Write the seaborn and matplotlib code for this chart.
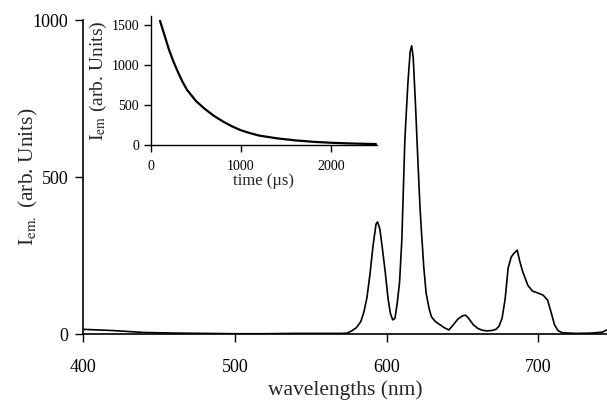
import numpy as np
import pandas as pd
import matplotlib
matplotlib.use("Agg")
import matplotlib.pyplot as plt
import seaborn as sns

# Emission spectrum
wavelength = [400, 410, 420, 430, 440, 450, 460, 480, 500, 520, 540, 560, 570,
              574, 577, 580, 583, 585, 587, 589, 591, 593, 594, 595.5, 597, 599,
              601, 602.5, 604, 605.5, 607, 608.5, 610, 612, 614, 615.5, 616.5,
              617.5, 619, 620.5, 622, 623, 624.5, 626, 628, 629.5, 632, 635, 638,
              641, 644, 647, 650, 652, 654, 657, 660, 663, 666, 669, 672, 674,
              676, 678, 679, 680, 682, 684, 686, 687.5, 689.5, 693, 696, 700,
              703, 706, 708.5, 710.5, 713, 716, 720, 725, 735, 742, 745]
intensity = [15, 13, 11, 8, 5, 4, 3, 2, 1, 1, 2, 2, 2,
             3, 10, 20, 40, 70, 115, 190, 280, 350, 357, 335, 280, 200,
             110, 65, 45, 50, 100, 165, 300, 620, 800, 900, 918,
             880, 730, 560, 400, 320, 210, 130, 80, 55, 40, 30, 20,
             13, 30, 48, 58, 60, 50, 30, 18, 12, 10, 11, 15, 25,
             50, 110, 160, 210, 245, 258, 267, 235, 200, 155, 137, 130,
             124, 108, 66, 30, 10, 4, 3, 2, 3, 6, 13]

# Luminescence decay (inset)
time_us = [100, 150, 200, 250, 300, 350, 400, 500, 600, 700, 800, 900, 1000,
           1100, 1200, 1400, 1600, 1800, 2000, 2200, 2400, 2500]
decay = [1550, 1370, 1190, 1040, 910, 790, 690, 550, 450, 365, 295, 235, 185,
         150, 120, 85, 60, 42, 30, 22, 16, 14]

spec = pd.DataFrame({"wl": wavelength, "I": intensity})
dec = pd.DataFrame({"t": time_us, "I": decay})

sns.set_style("ticks")
plt.rcParams["font.family"] = ["Liberation Serif", "DejaVu Serif"]
plt.rcParams["mathtext.fontset"] = "stix"

fig = plt.figure(figsize=(6.07, 4.01), dpi=100)
ax = fig.add_axes([0.1367, 0.167, 0.863, 0.783])
sns.lineplot(data=spec, x="wl", y="I", ax=ax, color="black", linewidth=1.2)
ax.set_xlim(400, 745)
ax.set_ylim(0, 1000)
ax.set_xticks([400, 500, 600, 700])
ax.set_yticks([0, 500, 1000])
ax.set_xlabel("wavelengths (nm)", fontsize=15.5, labelpad=3)
ax.set_ylabel("I$_{\\rm em.}$ (arb. Units)", fontsize=15.5, labelpad=-5)
ax.tick_params(labelsize=13, length=6, width=1, colors="black")
ax.tick_params(axis="x", pad=12)
ax.tick_params(axis="y", pad=4.5)
for s in ["left", "bottom"]:
    ax.spines[s].set_linewidth(1.2)
    ax.spines[s].set_color("black")
sns.despine(ax=ax)

ins = fig.add_axes([0.2488, 0.638, 0.372, 0.322])
sns.lineplot(data=dec, x="t", y="I", ax=ins, color="black", linewidth=1.6)
ins.set_xlim(0, 2510)
ins.set_ylim(0, 1610)
ins.set_xticks([0, 1000, 2000])
ins.set_yticks([0, 500, 1000, 1500])
ins.set_xlabel("time (\u00b5s)", fontsize=12, labelpad=0)
ins.set_ylabel("I$_{\\rm em}$ (arb. Units)", fontsize=14, labelpad=2)
ins.tick_params(labelsize=10, length=5, width=1, colors="black")
ins.tick_params(axis="x", pad=6)
for s in ["left", "bottom"]:
    ins.spines[s].set_linewidth(1)
    ins.spines[s].set_color("black")
ins.patch.set_alpha(0)
sns.despine(ax=ins)

fig.savefig("out.png", dpi=100)
